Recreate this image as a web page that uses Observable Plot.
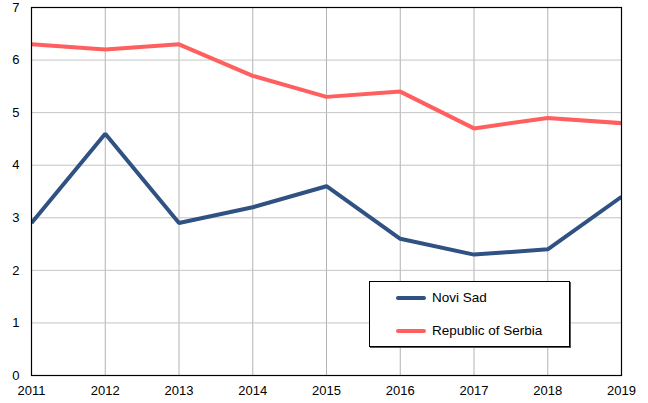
<!DOCTYPE html>
<html>
<head>
<meta charset="utf-8">
<script src="https://cdn.jsdelivr.net/npm/d3@7"></script>
<script src="https://cdn.jsdelivr.net/npm/@observablehq/plot@0.6"></script>
<style>
  body { margin: 0; background: #fff; font-family: "Liberation Sans", Arial, sans-serif; }
  #wrap { position: relative; width: 648px; height: 403px; }
  #legend { position: absolute; left: 369px; top: 281px; width: 201px; height: 66px; border: 1px solid #000; box-shadow: 1px 1px 0 #555; background: #fff; box-sizing: border-box; }
  .item { position: absolute; left: 26px; display: flex; align-items: center; font-size: 13.5px; color: #000; }
  .swatch { width: 30px; height: 4px; border-radius: 2px; margin-right: 6px; }
</style>
</head>
<body>
<div id="wrap"></div>
<script>
const years = [2011, 2012, 2013, 2014, 2015, 2016, 2017, 2018, 2019];
const noviSad = [2.9, 4.6, 2.9, 3.2, 3.6, 2.6, 2.3, 2.4, 3.4];
const serbia = [6.3, 6.2, 6.3, 5.7, 5.3, 5.4, 4.7, 4.9, 4.8];
const seriesNames = ["Novi Sad", "Republic of Serbia"];
const seriesColors = ["#2f5283", "#ff5f5f"];
const yTicks = [0, 1, 2, 3, 4, 5, 6, 7];

const data = [];
years.forEach((y, i) => data.push({year: y, value: noviSad[i], series: seriesNames[0]}));
years.forEach((y, i) => data.push({year: y, value: serbia[i], series: seriesNames[1]}));

const chart = Plot.plot({
  width: 648,
  height: 403,
  marginLeft: 31,
  marginRight: 27,
  marginTop: 7,
  marginBottom: 28,
  style: {fontFamily: "Liberation Sans, Arial, sans-serif", fontSize: "13px", color: "#000", background: "#fff"},
  x: {domain: [years[0], years[years.length - 1]], ticks: years, tickFormat: d => String(d), label: null},
  y: {domain: [0, 7], ticks: yTicks, tickFormat: d => String(d), label: null},
  color: {domain: seriesNames, range: seriesColors},
  marks: [
    Plot.gridX(years, {stroke: "#b3b3b3", strokeOpacity: 1}),
    Plot.gridY(yTicks, {stroke: "#c4c4c4", strokeOpacity: 1}),
    Plot.axisX({ticks: years, tickSize: 0, tickPadding: 10, tickFormat: d => String(d), fontSize: 13, label: null}),
    Plot.axisY({ticks: yTicks, tickSize: 0, tickPadding: 12, tickFormat: d => String(d), fontSize: 13, label: null}),
    Plot.line(data, {x: "year", y: "value", stroke: "series", z: "series", strokeWidth: 4, curve: "linear", strokeLinejoin: "miter", strokeLinecap: "butt", clip: true}),
    Plot.frame({stroke: "#000", strokeWidth: 1.2})
  ]
});
const wrap = document.getElementById("wrap");
wrap.appendChild(chart);

const legend = document.createElement("div");
legend.id = "legend";
seriesNames.forEach((name, i) => {
  const item = document.createElement("div");
  item.className = "item";
  item.style.top = (i === 0 ? 8 : 41) + "px";
  const sw = document.createElement("span");
  sw.className = "swatch";
  sw.style.background = seriesColors[i];
  const t = document.createElement("span");
  t.textContent = name;
  item.appendChild(sw);
  item.appendChild(t);
  legend.appendChild(item);
});
wrap.appendChild(legend);
</script>
</body>
</html>
